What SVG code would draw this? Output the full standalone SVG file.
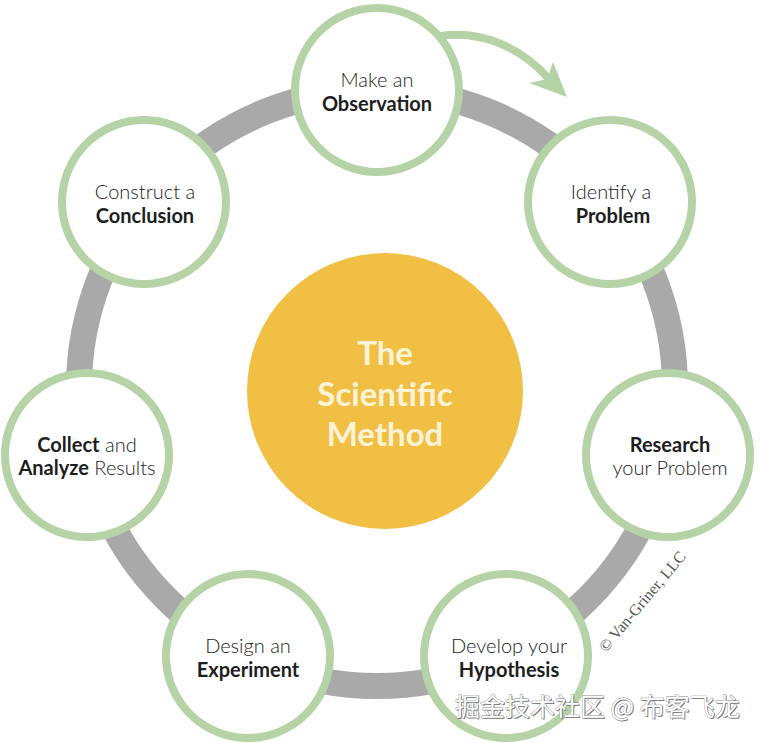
<svg xmlns="http://www.w3.org/2000/svg" width="760" height="743" viewBox="0 0 760 743">
<style>
.node circle{fill:#fff;stroke:#b5d3a6;stroke-width:8}
.lbl{font-family:Lato,"Open Sans","Noto Sans",sans-serif;font-size:20px;fill:#222;text-anchor:middle}
.b{font-weight:bold;fill:#1e1e1e}
.t{font-weight:300}
.center text{font-family:Lato,"Open Sans",sans-serif;font-weight:bold;font-size:33px;fill:#fbf3d6;text-anchor:middle}
</style>
<rect width="760" height="743" fill="#fff"/>
<g id="connectors">
<circle cx="377" cy="388" r="298" fill="none" stroke="#a9a9a9" stroke-width="26"/>
<path d="M441 36 C482 30 522 48 549 79" fill="none" stroke="#b5d3a6" stroke-width="8"/>
<polygon points="567,97 529,83 547,79 553,62" fill="#b5d3a6"/>
</g>
<g id="center" class="center">
<circle cx="385" cy="391" r="138" fill="#f2bf45"/>
<text x="385" y="365">The</text>
<text x="385" y="406">Scientific</text>
<text x="385" y="446">Method</text>
</g>
<g id="observation" class="node">
<circle cx="377" cy="90" r="82"/>
<text class="lbl t" x="377" y="87">Make an</text>
<text class="lbl b" x="377" y="111">Observation</text>
</g>
<g id="problem" class="node">
<circle cx="610" cy="202" r="82"/>
<text class="lbl t" x="611" y="199">Identify a</text>
<text class="lbl b" x="613" y="223">Problem</text>
</g>
<g id="research" class="node">
<circle cx="668" cy="455" r="82"/>
<text class="lbl b" x="670" y="452">Research</text>
<text class="lbl t" x="670" y="475">your Problem</text>
</g>
<g id="hypothesis" class="node">
<circle cx="506" cy="656" r="82"/>
<text class="lbl t" x="509" y="653">Develop your</text>
<text class="lbl b" x="509" y="677">Hypothesis</text>
</g>
<g id="experiment" class="node">
<circle cx="248" cy="656" r="82"/>
<text class="lbl t" x="248" y="653">Design an</text>
<text class="lbl b" x="248" y="677">Experiment</text>
</g>
<g id="results" class="node">
<circle cx="87" cy="455" r="82"/>
<text class="lbl" x="87" y="452"><tspan class="b">Collect</tspan><tspan class="t"> and</tspan></text>
<text class="lbl" x="87" y="475"><tspan class="b">Analyze</tspan><tspan class="t"> Results</tspan></text>
</g>
<g id="conclusion" class="node">
<circle cx="144" cy="202" r="82"/>
<text class="lbl t" x="145" y="199">Construct a</text>
<text class="lbl b" x="145" y="223">Conclusion</text>
</g>
<text transform="translate(606,653) rotate(-50)" font-family="Liberation Serif,serif" font-size="16" fill="#555">© Van-Griner, LLC</text>
<g font-family="Noto Sans CJK SC,sans-serif" font-size="25">
<text x="455" y="716" fill="#777" transform="translate(1,1)">掘金技术社区 @ 布客飞龙</text>
<text x="455" y="716" fill="#fff" stroke="#888" stroke-width="0.8" paint-order="stroke">掘金技术社区 @ 布客飞龙</text>
</g>
</svg>
